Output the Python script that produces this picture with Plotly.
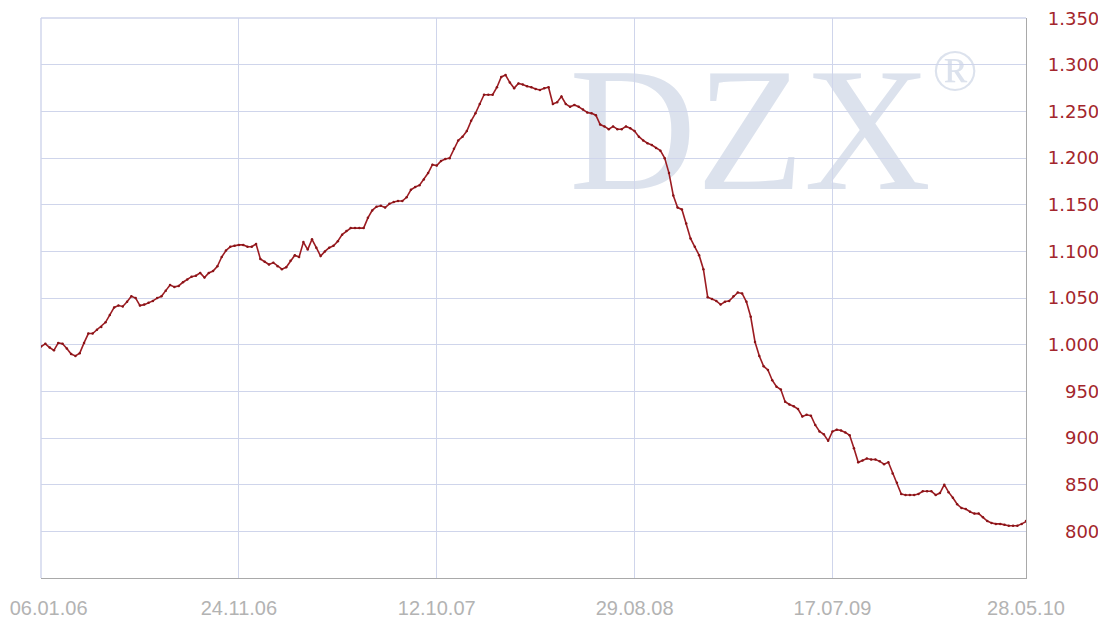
import pandas as pd
import plotly.graph_objects as go

# Weekly index values, first week 06.01.2006
values = [
    998, 1001, 997, 994, 1002, 1001, 996, 990, 988, 991,
    1002, 1012, 1012, 1016, 1019, 1024, 1032, 1040, 1042, 1041,
    1046, 1052, 1050, 1042, 1043, 1045, 1047, 1050, 1052, 1058,
    1064, 1062, 1063, 1067, 1070, 1073, 1074, 1077, 1072, 1077,
    1079, 1084, 1094, 1101, 1105, 1106, 1107, 1107, 1105, 1105,
    1108, 1092, 1089, 1086, 1088, 1084, 1081, 1083, 1090, 1096,
    1094, 1110, 1102, 1113, 1104, 1095, 1100, 1104, 1106, 1111,
    1118, 1122, 1125, 1125, 1125, 1125, 1136, 1144, 1148, 1149,
    1147, 1151, 1153, 1154, 1154, 1158, 1166, 1169, 1171, 1177,
    1184, 1193, 1192, 1197, 1199, 1200, 1210, 1219, 1223, 1229,
    1240, 1248, 1258, 1268, 1268, 1268, 1276, 1287, 1289, 1281,
    1275, 1280, 1279, 1277, 1276, 1274, 1273, 1275, 1276, 1258,
    1260, 1266, 1258, 1255, 1257, 1255, 1252, 1249, 1248, 1246,
    1236, 1234, 1231, 1234, 1231, 1231, 1234, 1232, 1229, 1223,
    1219, 1216, 1214, 1211, 1208, 1200, 1184, 1160, 1147, 1145,
    1130, 1114, 1105, 1096, 1081, 1051, 1049, 1047, 1043, 1046,
    1047, 1052, 1056, 1055, 1046, 1030, 1003, 988, 977, 973,
    962, 955, 952, 939, 936, 934, 931, 923, 925, 924,
    914, 907, 904, 897, 907, 909, 908, 906, 903, 889,
    874, 876, 878, 877, 877, 875, 872, 874, 862, 852,
    840, 839, 839, 839, 840, 843, 843, 843, 839, 841,
    850, 842, 836, 829, 825, 824, 821, 819, 819, 815,
    811, 809, 808, 808, 807, 806, 806, 806, 808, 811,
    813,
]
start_date = "2006-01-06"

x_tick_dates = ["2006-01-06", "2006-11-24", "2007-10-12", "2008-08-29", "2009-07-17", "2010-05-28"]
x_tick_labels = ["06.01.06", "24.11.06", "12.10.07", "29.08.08", "17.07.09", "28.05.10"]

y_tick_vals = [800, 850, 900, 950, 1000, 1050, 1100, 1150, 1200, 1250, 1300, 1350]
y_tick_labels = ["800", "850", "900", "950", "1.000", "1.050", "1.100", "1.150",
                 "1.200", "1.250", "1.300", "1.350"]

dates = pd.date_range(start_date, periods=len(values), freq="7D")


def pad(lbl):
    # right-align using figure space / punctuation space
    if len(lbl) == 3:
        return "\u2007\u2008" + lbl
    return lbl


# first date label nudged right so it stays inside the canvas
x_text = ["\u2007\u2009" + x_tick_labels[0]] + x_tick_labels[1:]

fig = go.Figure()
fig.add_trace(go.Scatter(
    x=dates, y=values, mode="lines+markers",
    line=dict(color="#9c1c22", width=1.6),
    marker=dict(size=2.5, color="#8a1418"),
    hoverinfo="skip", showlegend=False,
))

grid = "#cfd5eb"
fig.update_layout(
    width=1098, height=613,
    margin=dict(l=33, r=80, t=10, b=43),
    paper_bgcolor="white", plot_bgcolor="white",
    xaxis=dict(
        type="date", range=["2006-01-05 23:00", "2010-05-28 00:30"],
        tickvals=x_tick_dates, ticktext=x_text,
        showgrid=True, gridcolor=grid, gridwidth=1.4,
        showline=True, linecolor="#a9a9a9", linewidth=1.3,
        ticks="", zeroline=False, automargin=False,
        ticklabeloverflow="allow",
        tickfont=dict(family="Liberation Sans", size=20, color="#b3b3b3"),
        ticklabelstandoff=12,
    ),
    yaxis=dict(
        side="right", range=[750, 1350.2],
        tickvals=y_tick_vals, ticktext=[pad(t) for t in y_tick_labels],
        showgrid=True, gridcolor=grid, gridwidth=1.4,
        showline=True, linecolor="#a9a9a9", linewidth=1.3,
        ticks="", zeroline=False, automargin=False,
        ticklabeloverflow="allow",
        tickfont=dict(family="DejaVu Sans", size=18, color="#a3262c"),
        ticklabelstandoff=17,
    ),
    shapes=[
        dict(type="line", xref="paper", yref="paper", x0=0, x1=1, y0=1, y1=1,
             line=dict(color=grid, width=1.4), layer="below"),
        dict(type="line", xref="paper", yref="paper", x0=0, x1=0, y0=0, y1=1,
             line=dict(color=grid, width=1.4), layer="below"),
        dict(type="rect", xref="paper", yref="paper", x0=0.52, x1=0.92, y0=0.714, y1=0.954,
             line=dict(width=0), fillcolor="rgba(0,0,0,0)", layer="below",
             label=dict(text="DZX", textposition="middle center",
                        font=dict(family="Liberation Serif", size=176, color="#dce2ed"))),
        dict(type="rect", xref="paper", yref="paper", x0=0.878, x1=0.978, y0=0.874, y1=0.964,
             line=dict(width=0), fillcolor="rgba(0,0,0,0)", layer="below",
             label=dict(text="®", textposition="middle center",
                        font=dict(family="Liberation Serif", size=60, color="#dce2ed"))),
    ],
)

fig.write_html("out.html")
